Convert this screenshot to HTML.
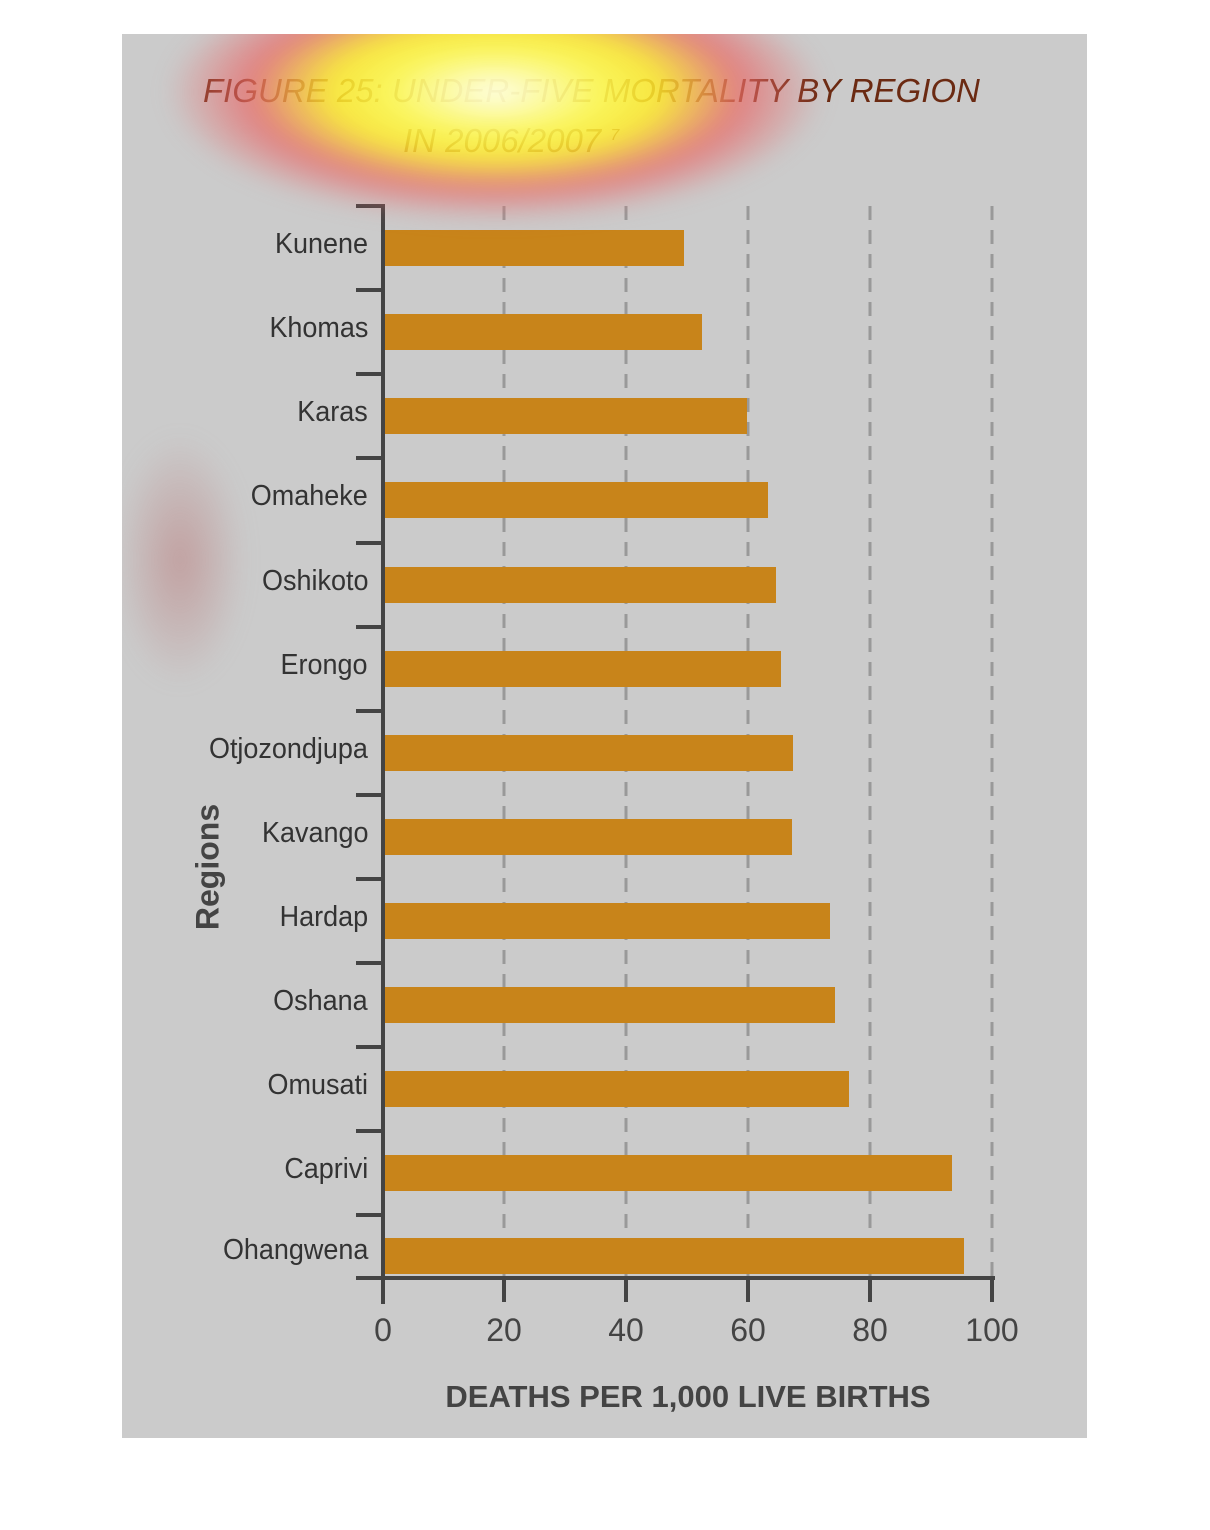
<!DOCTYPE html>
<html><head><meta charset="utf-8"><style>
body{margin:0;background:#fff;width:1210px;height:1530px;position:relative;overflow:hidden;font-family:"Liberation Sans",sans-serif}
#panel{position:absolute;left:122px;top:34px;width:965px;height:1404px;background:#cbcbcb}
.t{position:absolute;white-space:nowrap;color:#6b2a12;font-style:italic;font-size:33px;transform-origin:left top}
.lab{position:absolute;right:842px;font-size:29px;color:#333;white-space:nowrap;transform:scaleX(0.93);transform-origin:right center}
.bar{position:absolute;left:385px;height:36px;background:#c8841a}
.tick{position:absolute;font-size:32px;color:#444;transform:translateX(-50%)}
#ov{position:absolute;left:122px;top:34px;width:965px;height:1404px;overflow:hidden;pointer-events:none}
</style></head><body>
<div id="panel"></div>
<div class="t" style="left:203px;top:72px">FIGURE 25: UNDER-FIVE MORTALITY BY REGION</div>
<div class="t" style="left:403px;top:122px">IN 2006/2007 <sup style="font-size:16px">7</sup></div>
<svg style="position:absolute;left:0;top:0" width="1210" height="1530">
<g stroke="#999" stroke-width="3" stroke-dasharray="14,10">
<line x1="504" y1="206" x2="504" y2="1278"/><line x1="626" y1="206" x2="626" y2="1278"/><line x1="748" y1="206" x2="748" y2="1278"/><line x1="870" y1="206" x2="870" y2="1278"/><line x1="992" y1="206" x2="992" y2="1278"/>
</g>
<g stroke="#444" stroke-width="4">
<line x1="383" y1="204" x2="383" y2="1304"/><line x1="356" y1="1278" x2="995" y2="1278"/>
<line x1="356" y1="206" x2="383" y2="206"/><line x1="356" y1="290" x2="383" y2="290"/><line x1="356" y1="374" x2="383" y2="374"/><line x1="356" y1="458" x2="383" y2="458"/><line x1="356" y1="543" x2="383" y2="543"/><line x1="356" y1="627" x2="383" y2="627"/><line x1="356" y1="711" x2="383" y2="711"/><line x1="356" y1="795" x2="383" y2="795"/><line x1="356" y1="879" x2="383" y2="879"/><line x1="356" y1="963" x2="383" y2="963"/><line x1="356" y1="1047" x2="383" y2="1047"/><line x1="356" y1="1131" x2="383" y2="1131"/><line x1="356" y1="1215" x2="383" y2="1215"/>
<line x1="504" y1="1278" x2="504" y2="1302"/><line x1="626" y1="1278" x2="626" y2="1302"/><line x1="748" y1="1278" x2="748" y2="1302"/><line x1="870" y1="1278" x2="870" y2="1302"/><line x1="992" y1="1278" x2="992" y2="1302"/>
</g>
</svg>
<div class="bar" style="top:230px;width:299px"></div>
<div class="bar" style="top:314px;width:317px"></div>
<div class="bar" style="top:398px;width:362px"></div>
<div class="bar" style="top:482px;width:383px"></div>
<div class="bar" style="top:567px;width:391px"></div>
<div class="bar" style="top:651px;width:396px"></div>
<div class="bar" style="top:735px;width:408px"></div>
<div class="bar" style="top:819px;width:407px"></div>
<div class="bar" style="top:903px;width:445px"></div>
<div class="bar" style="top:987px;width:450px"></div>
<div class="bar" style="top:1071px;width:464px"></div>
<div class="bar" style="top:1155px;width:567px"></div>
<div class="bar" style="top:1238px;width:579px"></div>
<div class="lab" style="top:228px">Kunene</div>
<div class="lab" style="top:312px">Khomas</div>
<div class="lab" style="top:396px">Karas</div>
<div class="lab" style="top:480px">Omaheke</div>
<div class="lab" style="top:565px">Oshikoto</div>
<div class="lab" style="top:649px">Erongo</div>
<div class="lab" style="top:733px">Otjozondjupa</div>
<div class="lab" style="top:817px">Kavango</div>
<div class="lab" style="top:901px">Hardap</div>
<div class="lab" style="top:985px">Oshana</div>
<div class="lab" style="top:1069px">Omusati</div>
<div class="lab" style="top:1153px">Caprivi</div>
<div class="lab" style="top:1234px">Ohangwena</div>
<div class="tick" style="left:383px;top:1312px">0</div>
<div class="tick" style="left:504px;top:1312px">20</div>
<div class="tick" style="left:626px;top:1312px">40</div>
<div class="tick" style="left:748px;top:1312px">60</div>
<div class="tick" style="left:870px;top:1312px">80</div>
<div class="tick" style="left:992px;top:1312px">100</div>
<div style="position:absolute;left:688px;top:1379px;transform:translateX(-50%);font-size:31px;font-weight:bold;color:#444;white-space:nowrap">DEATHS PER 1,000 LIVE BIRTHS</div>
<div style="position:absolute;left:208px;top:867px;transform:translate(-50%,-50%) rotate(-90deg);font-size:32px;font-weight:bold;color:#444">Regions</div>
<div id="ov">
<div style="position:absolute;left:-40px;top:-120px;width:820px;height:360px;background:radial-gradient(ellipse 330px 130px at 413px 178px,rgba(255,255,235,0.97) 0%,rgba(255,250,80,0.9) 32%,rgba(255,235,40,0.85) 50%,rgba(232,105,105,0.75) 74%,rgba(203,203,203,0) 100%);filter:blur(10px)"></div>
<div style="position:absolute;left:0px;top:396px;width:140px;height:260px;background:radial-gradient(ellipse 65px 125px at 58px 130px,rgba(190,145,145,0.75),rgba(203,203,203,0) 100%);filter:blur(10px)"></div>
</div>
</body></html>
